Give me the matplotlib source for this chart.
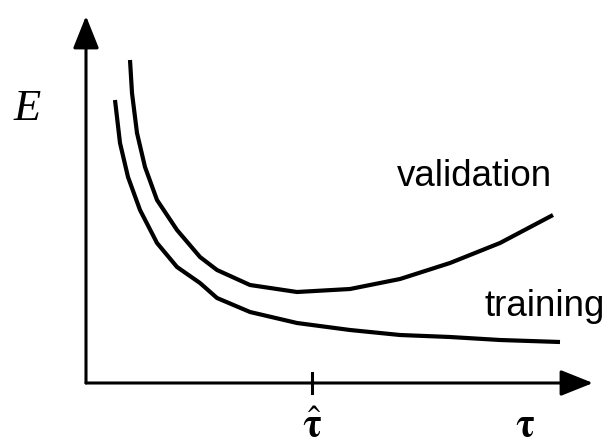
import matplotlib
matplotlib.use("Agg")
import matplotlib.pyplot as plt

# curve values (tau, E) in arbitrary units
val_tau = [44, 46, 51, 59, 71, 91, 114, 131, 164, 211, 264, 314, 364, 414, 467]
val_E = [323, 290, 250, 216, 183, 153, 126, 113, 98, 91, 94, 104, 120, 140, 168]
train_tau = [29, 34, 42, 54, 71, 91, 114, 131, 164, 211, 264, 314, 364, 414, 474]
train_E = [283, 240, 206, 173, 140, 116, 100, 85, 71, 60, 53, 48, 46, 43, 41]
tau_hat = 226

plt.rcParams['mathtext.fontset'] = 'stix'

fig = plt.figure(figsize=(6.09, 4.44), dpi=100)
ax = fig.add_axes([0, 0, 1, 1])
ax.set_xlim(-86, 523)
ax.set_ylim(-61, 383)
ax.axis('off')

# axes with arrow heads
arrow = dict(arrowstyle='-|>,head_length=2.0,head_width=0.8', color='black', lw=2.2,
             shrinkA=0, shrinkB=0)
ax.annotate('', xy=(0, 367), xytext=(0, 0), arrowprops=arrow)
ax.annotate('', xy=(507, 0), xytext=(0, 0), arrowprops=arrow)
ax.plot([tau_hat, tau_hat], [-10, 10], color='black', lw=2.2)

ax.plot(val_tau, val_E, color='black', lw=3, solid_capstyle='butt')
ax.plot(train_tau, train_E, color='black', lw=3, solid_capstyle='butt')

ax.text(388, 206, 'validation', fontsize=26.5, family='Liberation Sans',
        ha='center', va='center')
ax.text(459, 77, 'training', fontsize=26.5, family='Liberation Sans',
        ha='center', va='center')
ax.text(-59, 274, 'E', fontsize=32, family='Liberation Serif', style='italic',
        ha='center', va='center')
ax.text(tau_hat, -43, r'$\hat{\mathbf{\tau}}$', fontsize=28, ha='center', va='center')
ax.text(439, -42, r'$\mathbf{\tau}$', fontsize=28, ha='center', va='center')

fig.savefig('out.png', dpi=100)
